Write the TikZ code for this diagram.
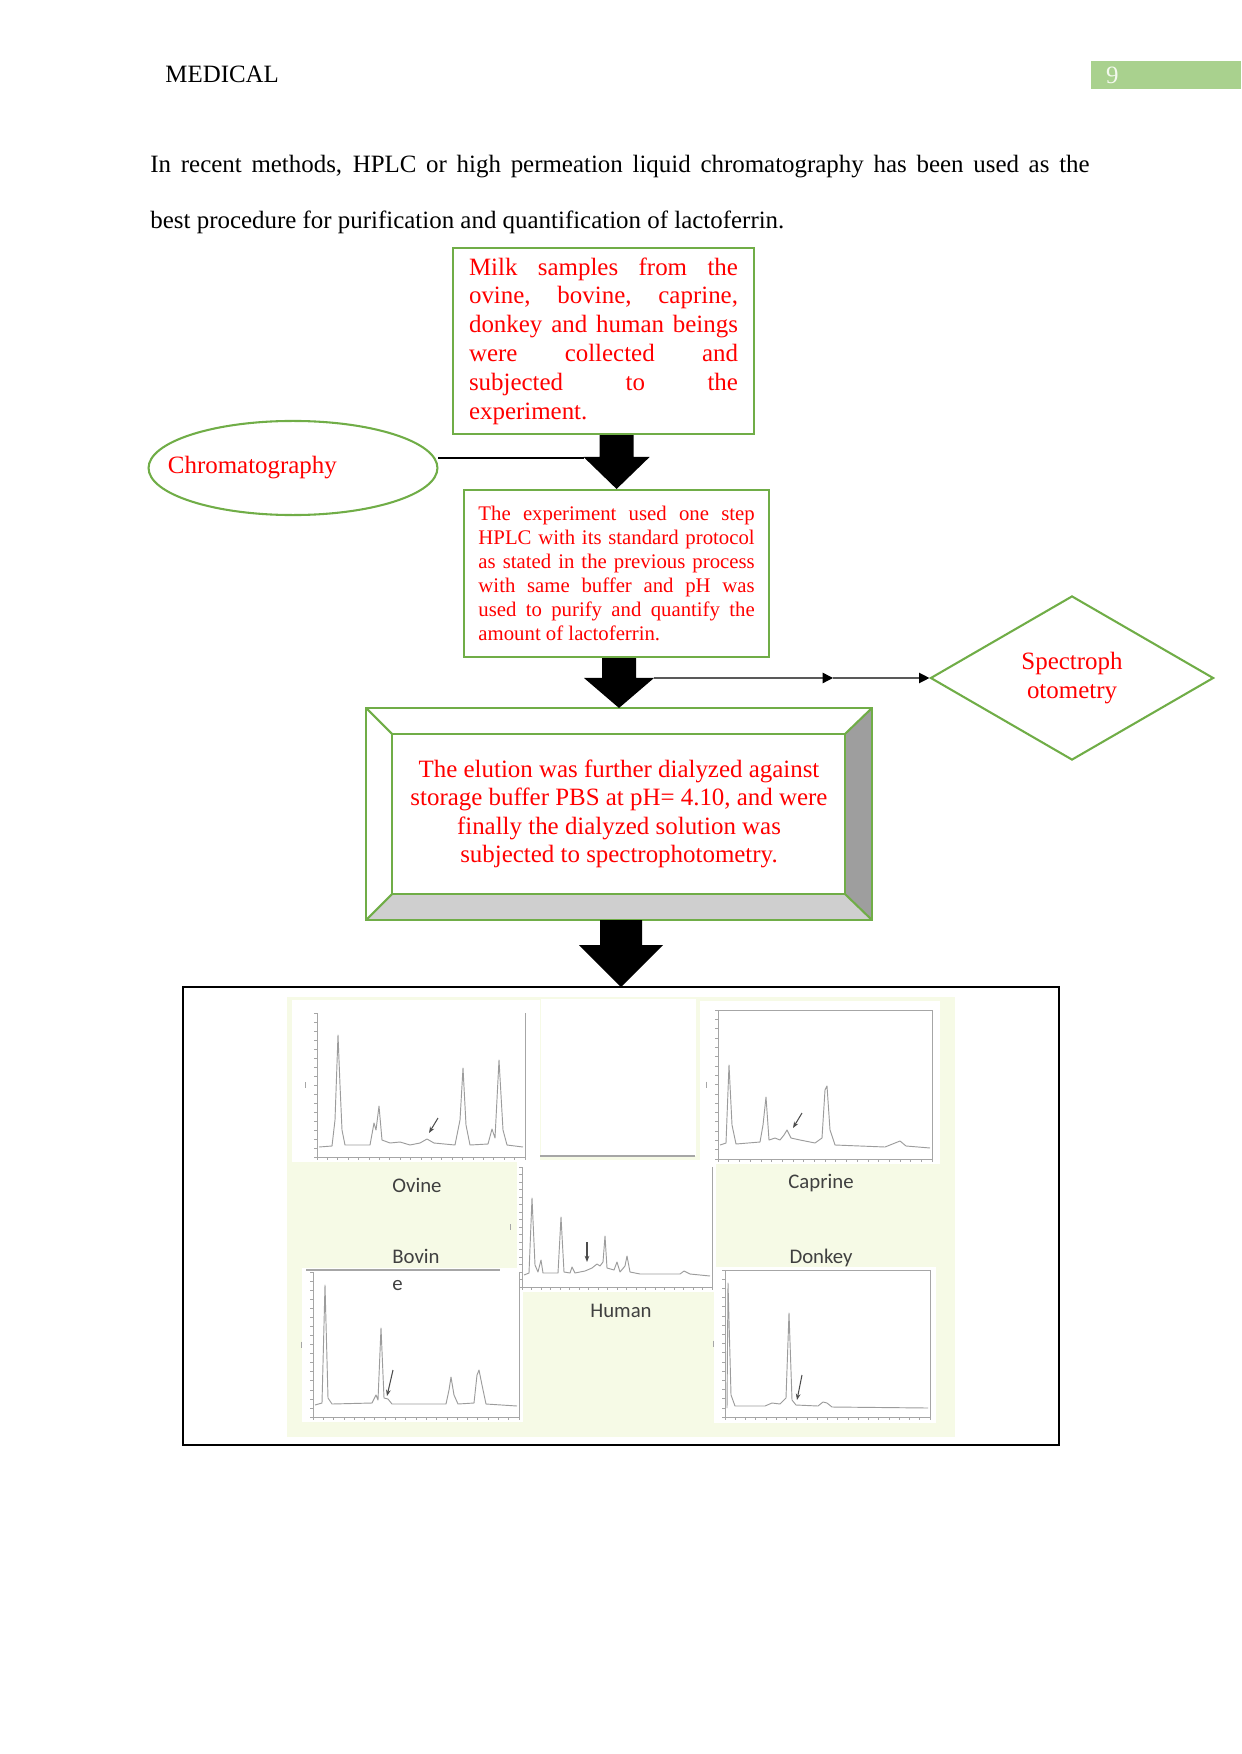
\documentclass[tikz,border=0pt]{standalone}
\usepackage{fontspec}
\setmainfont{Liberation Serif}
\newfontfamily\calfont{Carlito}
\usetikzlibrary{positioning,arrows.meta,calc,shapes.geometric}
\definecolor{cred}{HTML}{FF0000}
\definecolor{cgreen}{HTML}{70AD47}
\definecolor{cpage}{HTML}{A9D18E}
\definecolor{cnum}{HTML}{F4F9EE}
\definecolor{cbg}{HTML}{F6FAE6}
\definecolor{cline}{HTML}{A6A6A6}
\definecolor{ctrace}{HTML}{9C9C9C}
\definecolor{cdark}{HTML}{9E9E9E}
\definecolor{clight}{HTML}{CFCFCF}
\definecolor{clbl}{HTML}{404040}

% block arrow: from, to, shaft half width, head half width, head length
\newcommand{\blkarrow}[5]{%
  \fill[blk] (#1 -| #2) ++(-#3,0) -- ++(2*#3,0) -- ($(#2)+(#3,-#5)$)
    -- ($(#2)+(#4,-#5)$) -- (#2) -- ($(#2)+(-#4,-#5)$)
    -- ($(#2)+(-#3,-#5)$) -- cycle;}
% chart axes: left, right, top, bottom
\newcommand{\chartaxes}[4]{%
  \draw[axln] (#1,#3) -- (#1,#4) -- (#2,#4) -- (#2,#3);
  \foreach \tk in {0,...,16}
    \draw[axln] (#1,{#4-\tk*(#4-#3)/16}) -- ++(-3,0);
  \foreach \tk in {0,...,20}
    \draw[axln] ({#1+\tk*(#2-#1)/20},#4) -- ++(0,3);
  \draw[axln] (#1-12,{(#3+#4)/2-3}) -- ++(0,6);}

\begin{document}
\begin{tikzpicture}[x=0.0169218cm, y=-0.0169218cm,
  font=\fontsize{12}{14}\selectfont,
  proc/.style={draw=cgreen, line width=1pt, text=cred, align=justify, anchor=north west},
  grn/.style={draw=cgreen, line width=1pt},
  blk/.style={fill=black},
  conn/.style={-{Triangle[length=5pt,width=5pt]}, line width=0.6pt},
  axln/.style={cline, line width=0.3pt},
  trace/.style={ctrace, line width=0.45pt, line join=round},
  pk/.style={-{Stealth[length=3pt]}, black!70, line width=0.5pt},
  lbl/.style={font=\calfont\fontsize{10}{13}\selectfont, text=clbl, inner sep=0}]
\useasboundingbox (0,0) rectangle (1241,1754);

% header
\node[anchor=base west, inner sep=0] (header) at (165,83) {MEDICAL};
\node[fill=cpage, anchor=north west, minimum width=72.2pt, minimum height=13.5pt,
  text width=58pt, inner xsep=7.1pt, inner ysep=0, align=left, text=cnum]
  (pgnum) at (1091,61) {9};

\node[anchor=north west, inner sep=0, text width=452.2pt, align=justify,
  font=\fontsize{12}{27}\selectfont] (intro) at (150,155)
  {In recent methods, HPLC or high permeation liquid chromatography has been used as the\linebreak
   best procedure for purification and quantification of lactoferrin.};

% flow
\node[proc, text width=129.5pt, inner xsep=7.7pt, minimum height=89.6pt,
  font=\fontsize{12}{13.9}\selectfont] (milk) at (452,247)
  {Milk samples from the\linebreak ovine, bovine, caprine,\linebreak
   donkey and human beings\linebreak were collected and\linebreak
   subjected to the\linebreak experiment.};

\node[proc, text width=133pt, inner xsep=6.95pt, minimum height=80.4pt,
  font=\fontsize{10}{11.5}\selectfont] (hplc) at (463,489)
  {The experiment used one step\linebreak HPLC with its standard protocol\linebreak
   as stated in the previous process\linebreak with same buffer and pH was\linebreak
   used to purify and quantify the\linebreak amount of lactoferrin.};

\node[ellipse, grn, minimum width=139.1pt, minimum height=45.3pt, inner sep=0,
  text=cred] (chromo) at (293,468)
  {\makebox[0pt][l]{\hspace*{-60.2pt}Chromatography}};

\node[diamond, grn, minimum width=136.3pt, minimum height=79pt, inner sep=0,
  align=center, text=cred] (spectro) at (1072,678) {Spectroph\\otometry};

\node[draw=cgreen, line width=1pt, outer sep=0, minimum width=243.6pt,
  minimum height=102.1pt, align=center, text=cred,
  font=\fontsize{12}{13.7}\selectfont] (elution) at (619,814)
  {The elution was further dialyzed against\\ storage buffer PBS at pH= 4.10, and were\\
   finally the dialyzed solution was\\ subjected to spectrophotometry.};
% bevel
\fill[cdark] (elution.north east) -- (elution.south east) -- ++(-27,-26)
  -- ($(elution.north east)+(-27,26)$) -- cycle;
\fill[clight] (elution.south west) -- (elution.south east) -- ++(-27,-26)
  -- ($(elution.south west)+(26,-26)$) -- cycle;
\draw[grn] ($(elution.north west)+(26,26)$) rectangle ($(elution.south east)+(-27,-26)$);
\draw[grn] (elution.north west) -- ++(26,26) (elution.north east) -- ++(-27,26)
  (elution.south west) -- ++(26,-26) (elution.south east) -- ++(-27,-26);
\draw[grn] (elution.north west) rectangle (elution.south east);

% chart frame
\node[draw=black, line width=0.7pt, outer sep=0, minimum width=421.8pt,
  minimum height=220.5pt, inner sep=0] (charts) at (621,1216) {};

% connectors
\coordinate (hd1) at ($(hplc.north)+(-33,-31)$);
\draw[line width=0.6pt] (chromo.east |- hd1) -- (hd1);
\blkarrow{milk.south}{hplc.north}{17}{33}{32}
\blkarrow{hplc.south}{elution.north}{17}{35}{30}
\blkarrow{elution.south}{charts.north}{21}{42}{42}
\coordinate (hd2) at ($(elution.north)+(35,-30)$);
\coordinate (mid) at ($(hd2)!0.65!(spectro.west)$);
\draw[conn] (hd2) -- (mid);
\draw[conn] (mid) -- (spectro.west);

% chromatograms
\fill[cbg] (287,997) rectangle (955,1437);
\fill[white] (292,1000) rectangle (540,1162);
\fill[white] (541,999) rectangle (696,1156);
\fill[white] (700,1001) rectangle (940,1164);
\fill[white] (517,1160) rectangle (716,1292);
\fill[white] (302,1268) rectangle (523,1422);
\fill[white] (714,1267) rectangle (936,1423);
\draw[cline, line width=1pt] (540,1156) -- (695,1156);
\draw[cline, line width=1.2pt] (306,1270) -- (500,1270);

% ovine
\chartaxes{317}{525}{1013}{1157}
\draw[trace] (319,1147) -- (332,1146) -- (335,1120) -- (338,1035) -- (340,1085)
  -- (342,1130) -- (345,1145) -- (370,1145) -- (374,1123) -- (376,1130) -- (379,1106)
  -- (382,1140) -- (390,1143) -- (400,1142) -- (410,1145) -- (420,1143) -- (427,1139)
  -- (434,1143) -- (455,1145) -- (460,1120) -- (463,1068) -- (466,1125) -- (470,1145)
  -- (488,1144) -- (492,1129) -- (495,1138) -- (499,1060) -- (503,1130) -- (507,1145)
  -- (523,1147);
\draw[pk] (438,1118) -- (429,1133);

% caprine
\chartaxes{718}{932}{1010}{1159}
\draw[axln] (718,1010) -- (932,1010);
\draw[trace] (720,1145) -- (726,1143) -- (729,1065) -- (732,1125) -- (736,1144)
  -- (760,1142) -- (763,1125) -- (766,1097) -- (769,1140) -- (775,1138) -- (780,1140)
  -- (784,1135) -- (787,1130) -- (791,1138) -- (800,1140) -- (815,1143) -- (822,1138)
  -- (825,1090) -- (827,1086) -- (830,1130) -- (835,1145) -- (885,1147) -- (895,1143)
  -- (900,1141) -- (906,1146) -- (930,1148);
\draw[pk] (802,1113) -- (793,1128);

% human
\chartaxes{522}{712}{1167}{1287}
\draw[trace] (524,1275) -- (529,1273) -- (532,1198) -- (535,1265) -- (538,1272)
  -- (541,1260) -- (543,1273) -- (558,1273) -- (561,1217) -- (564,1272) -- (570,1273)
  -- (572,1267) -- (575,1273) -- (585,1271) -- (592,1268) -- (597,1264) -- (600,1266)
  -- (603,1262) -- (605,1236) -- (607,1268) -- (614,1270) -- (617,1262) -- (620,1272)
  -- (625,1266) -- (627,1256) -- (630,1272) -- (640,1274) -- (680,1274) -- (684,1271)
  -- (690,1274) -- (710,1276);
\draw[pk] (587,1242) -- (587,1262);

% bovine
\chartaxes{313}{519}{1272}{1417}
\draw[trace] (315,1405) -- (322,1403) -- (325,1285) -- (328,1398) -- (332,1404)
  -- (372,1403) -- (376,1395) -- (378,1400) -- (381,1328) -- (384,1398) -- (388,1399)
  -- (392,1404) -- (446,1404) -- (449,1390) -- (451,1377) -- (454,1395) -- (458,1404)
  -- (474,1403) -- (477,1375) -- (479,1370) -- (482,1385) -- (486,1404) -- (517,1406);
\draw[pk] (393,1370) -- (387,1396);

% donkey
\chartaxes{725}{930}{1270}{1417}
\draw[axln] (725,1270) -- (930,1270);
\draw[trace] (727,1408) -- (728,1283) -- (731,1395) -- (735,1406) -- (765,1406)
  -- (772,1403) -- (780,1404) -- (786,1398) -- (789,1313) -- (792,1400) -- (796,1405)
  -- (818,1406) -- (823,1402) -- (827,1403) -- (832,1407) -- (928,1408);
\draw[pk] (802,1375) -- (797,1400);

\node[lbl, anchor=base] (ovine) at (417,1192) {Ovine};
\node[lbl, anchor=base] (caprine) at (821,1188) {Caprine};
\node[lbl, anchor=base west] (bovine) at (392,1263) {Bovin};
\node[lbl, anchor=base west] (bovinee) at (392,1290) {e};
\node[lbl, anchor=base] (donkey) at (821,1263) {Donkey};
\node[lbl, anchor=base] (human) at (621,1317) {Human};
\end{tikzpicture}
\end{document}
